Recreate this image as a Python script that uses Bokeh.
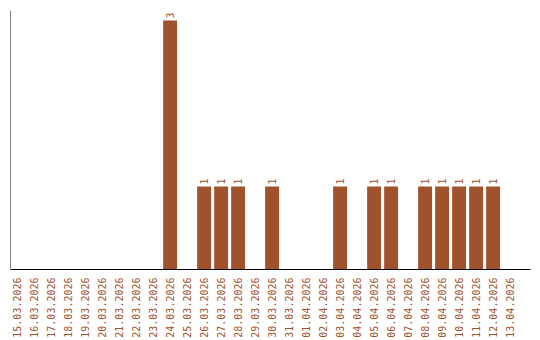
import math
from bokeh.plotting import figure
from bokeh.models import ColumnDataSource, FixedTicker, Span, Range1d
from bokeh.core.properties import value
from bokeh.embed import file_html
from bokeh.resources import INLINE

dates = ["15.03.2026", "16.03.2026", "17.03.2026", "18.03.2026", "19.03.2026",
         "20.03.2026", "21.03.2026", "22.03.2026", "23.03.2026", "24.03.2026",
         "25.03.2026", "26.03.2026", "27.03.2026", "28.03.2026", "29.03.2026",
         "30.03.2026", "31.03.2026", "01.04.2026", "02.04.2026", "03.04.2026",
         "04.04.2026", "05.04.2026", "06.04.2026", "07.04.2026", "08.04.2026",
         "09.04.2026", "10.04.2026", "11.04.2026", "12.04.2026", "13.04.2026"]
counts = [0, 0, 0, 0, 0, 0, 0, 0, 0, 3,
          0, 1, 1, 1, 0, 1, 0, 0, 0, 1,
          0, 1, 1, 0, 1, 1, 1, 1, 1, 0]

COLOR = "#A0522D"
FONT = "DejaVu Sans Mono"

idx = list(range(len(dates)))
src = ColumnDataSource(dict(x=idx, top=counts))
lab_x = [i for i, c in zip(idx, counts) if c > 0]
lab_y = [c for c in counts if c > 0]
lab_t = [str(c) for c in counts if c > 0]
lsrc = ColumnDataSource(dict(x=lab_x, y=lab_y, t=lab_t))

p = figure(width=540, height=340, output_backend="svg", toolbar_location=None,
           x_range=Range1d(-0.39, 30.2), y_range=Range1d(0, 3.12),
           min_border_left=10, min_border_right=10, min_border_top=10,
           min_border_bottom=0)
p.outline_line_color = None
p.xgrid.visible = False
p.ygrid.visible = False
p.yaxis.visible = False

p.vbar(x="x", top="top", width=0.82, source=src, fill_color=COLOR, line_color=None)
p.text(x="x", y="y", text="t", source=lsrc, angle=math.pi / 2,
       text_align="left", text_baseline="middle", y_offset=-2,
       text_font=value(FONT), text_font_size="10px", text_color=COLOR)

p.add_layout(Span(location=-0.39, dimension="height", line_color="black", line_width=1))

ax = p.xaxis[0]
ax.ticker = FixedTicker(ticks=idx)
ax.major_label_overrides = {i: d for i, d in zip(idx, dates)}
ax.major_label_orientation = math.pi / 2
ax.major_label_text_font = FONT
ax.major_label_text_font_size = "10px"
ax.major_label_text_color = COLOR
ax.major_tick_line_color = None
ax.minor_tick_line_color = None
ax.axis_line_color = "black"
ax.axis_line_width = 1
ax.major_label_standoff = 2

open("out.html", "w").write(file_html(p, INLINE))
